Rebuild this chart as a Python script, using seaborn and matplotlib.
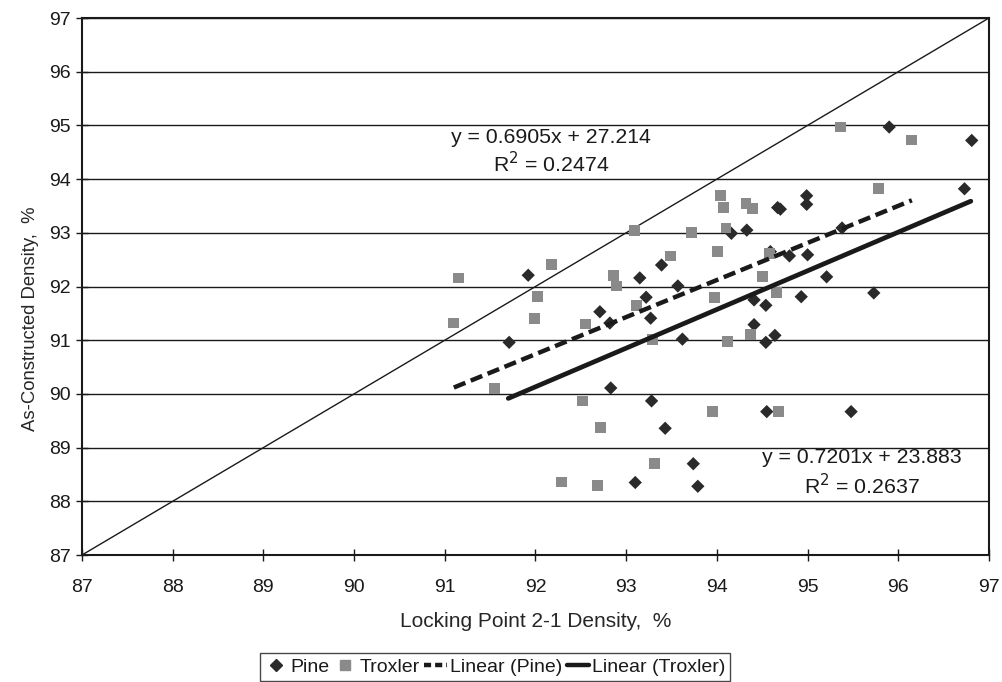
import numpy as np
import pandas as pd
import matplotlib
matplotlib.use("Agg")
import matplotlib.pyplot as plt
from matplotlib.lines import Line2D
import seaborn as sns

# Pine gauge readings: locking point density vs as-constructed density (%)
pine_lp = [95.90, 96.81, 96.73, 94.99, 94.99, 94.67, 94.70, 94.16, 94.33, 95.38,
           94.59, 94.80, 95.00, 95.21, 94.41, 94.54, 94.93, 95.73, 91.92, 93.15,
           93.39, 93.57, 93.22, 92.71, 92.82, 93.27, 91.71, 93.62, 92.83, 93.28,
           93.43, 93.74, 93.10, 93.79, 94.41, 94.54, 94.64, 94.55, 95.48]
pine_ac = [94.97, 94.72, 93.82, 93.69, 93.53, 93.47, 93.44, 92.99, 93.05, 93.09,
           92.65, 92.57, 92.59, 92.18, 91.75, 91.65, 91.81, 91.88, 92.21, 92.16,
           92.40, 92.01, 91.80, 91.53, 91.32, 91.41, 90.96, 91.02, 90.11, 89.87,
           89.36, 88.70, 88.35, 88.28, 91.29, 90.96, 91.09, 89.67, 89.67]

# Troxler gauge readings
trox_lp = [94.04, 94.07, 94.10, 93.09, 93.72, 93.49, 94.01, 92.18, 91.15, 92.86,
           92.89, 92.02, 93.97, 93.11, 91.99, 91.10, 95.36, 96.15, 95.78, 94.32,
           94.39, 94.58, 94.50, 94.66, 92.55, 93.29, 94.12, 91.55, 92.52, 92.72,
           93.95, 93.31, 92.29, 92.68, 94.37, 94.68]
trox_ac = [93.69, 93.47, 93.09, 93.04, 93.00, 92.57, 92.65, 92.41, 92.16, 92.21,
           92.01, 91.81, 91.80, 91.65, 91.41, 91.32, 94.97, 94.73, 93.82, 93.54,
           93.45, 92.62, 92.18, 91.89, 91.30, 91.01, 90.97, 90.10, 89.87, 89.37,
           89.67, 88.71, 88.36, 88.29, 91.10, 89.67]

# Trend lines (slope, intercept, R^2, x extent)
fit_dash = (0.6905, 27.214, 0.2474, (91.1, 96.15))
fit_solid = (0.7201, 23.883, 0.2637, (91.7, 96.8))

axis_ticks = list(range(87, 98))

sns.set_theme(style="white")
plt.rcParams["font.family"] = ["Liberation Sans", "DejaVu Sans"]
plt.rcParams["text.color"] = "#1a1a1a"

fig = plt.figure(figsize=(10.02, 6.82), dpi=100)
ax = fig.add_axes([0.0818, 0.1862, 0.9052, 0.7874])

df = pd.DataFrame({
    "lp": pine_lp + trox_lp,
    "ac": pine_ac + trox_ac,
    "gauge": ["Pine"] * len(pine_lp) + ["Troxler"] * len(trox_lp),
})

# horizontal grid
for t in axis_ticks:
    ax.axhline(t, color="#1a1a1a", lw=1.0, zorder=0)

# line of equality
ax.plot([87, 97], [87, 97], color="#1a1a1a", lw=1.0, zorder=1)

sns.scatterplot(data=df[df.gauge == "Pine"], x="lp", y="ac", ax=ax,
                marker="D", s=46, color="#2a2a2a", edgecolor="none",
                legend=False, zorder=3)
sns.scatterplot(data=df[df.gauge == "Troxler"], x="lp", y="ac", ax=ax,
                marker="s", s=60, color="#8a8a8a", edgecolor="none",
                legend=False, zorder=3)

def trend(fit):
    m, b, _, (x0, x1) = fit
    xs = np.array([x0, x1])
    return xs, m * xs + b

xd, yd = trend(fit_dash)
ax.plot(xd, yd, color="#1a1a1a", lw=3.2, ls=(0, (2.8, 1.3)), zorder=4)
xs_, ys_ = trend(fit_solid)
ax.plot(xs_, ys_, color="#1a1a1a", lw=3.4, zorder=4)

eq_fs = 15.3
ax.text(92.17, 94.78, f"y = {fit_dash[0]:.4f}x + {fit_dash[1]:.3f}",
        ha="center", va="center", fontsize=eq_fs)
ax.text(92.17, 94.29, f"R$^2$ = {fit_dash[2]:.4f}",
        ha="center", va="center", fontsize=eq_fs)
ax.text(95.60, 88.82, f"y = {fit_solid[0]:.4f}x + {fit_solid[1]:.3f}",
        ha="center", va="center", fontsize=eq_fs)
ax.text(95.60, 88.30, f"R$^2$ = {fit_solid[2]:.4f}",
        ha="center", va="center", fontsize=eq_fs)

ax.set_xlim(87, 97)
ax.set_ylim(87, 97)
ax.set_xticks(axis_ticks)
ax.set_yticks(axis_ticks)
ax.tick_params(axis="both", labelsize=14, length=8, width=1,
               direction="inout", color="#1a1a1a", labelcolor="#1a1a1a",
               bottom=True, left=True)
ax.tick_params(axis="x", pad=13)
ax.tick_params(axis="y", pad=4)
for sp in ax.spines.values():
    sp.set_color("#1a1a1a")
    sp.set_linewidth(1.5)

ax.set_xlabel("Locking Point 2-1 Density,  %", fontsize=15)
ax.xaxis.set_label_coords(0.5, -0.107)
ax.set_ylabel("As-Constructed Density,  %", fontsize=13.3)
ax.yaxis.set_label_coords(-0.047, 0.44)

handles = [
    Line2D([], [], marker="D", ls="none", color="#2a2a2a", markersize=6),
    Line2D([], [], marker="s", ls="none", color="#8a8a8a", markersize=7),
    Line2D([], [], color="#1a1a1a", lw=3.2, ls=(0, (1.6, 0.9))),
    Line2D([], [], color="#1a1a1a", lw=3.2),
]
labels = ["Pine", "Troxler", "Linear (Pine)", "Linear (Troxler)"]
leg = fig.legend(handles, labels, loc="center", bbox_to_anchor=(0.494, 0.022),
                 ncol=4, frameon=True, fancybox=False, fontsize=14,
                 handlelength=1.15, handletextpad=0.15, columnspacing=0.25,
                 borderpad=0.25, borderaxespad=0)
leg.get_frame().set_edgecolor("#1a1a1a")
leg.get_frame().set_linewidth(1.0)

fig.savefig("out.png", dpi=100)
